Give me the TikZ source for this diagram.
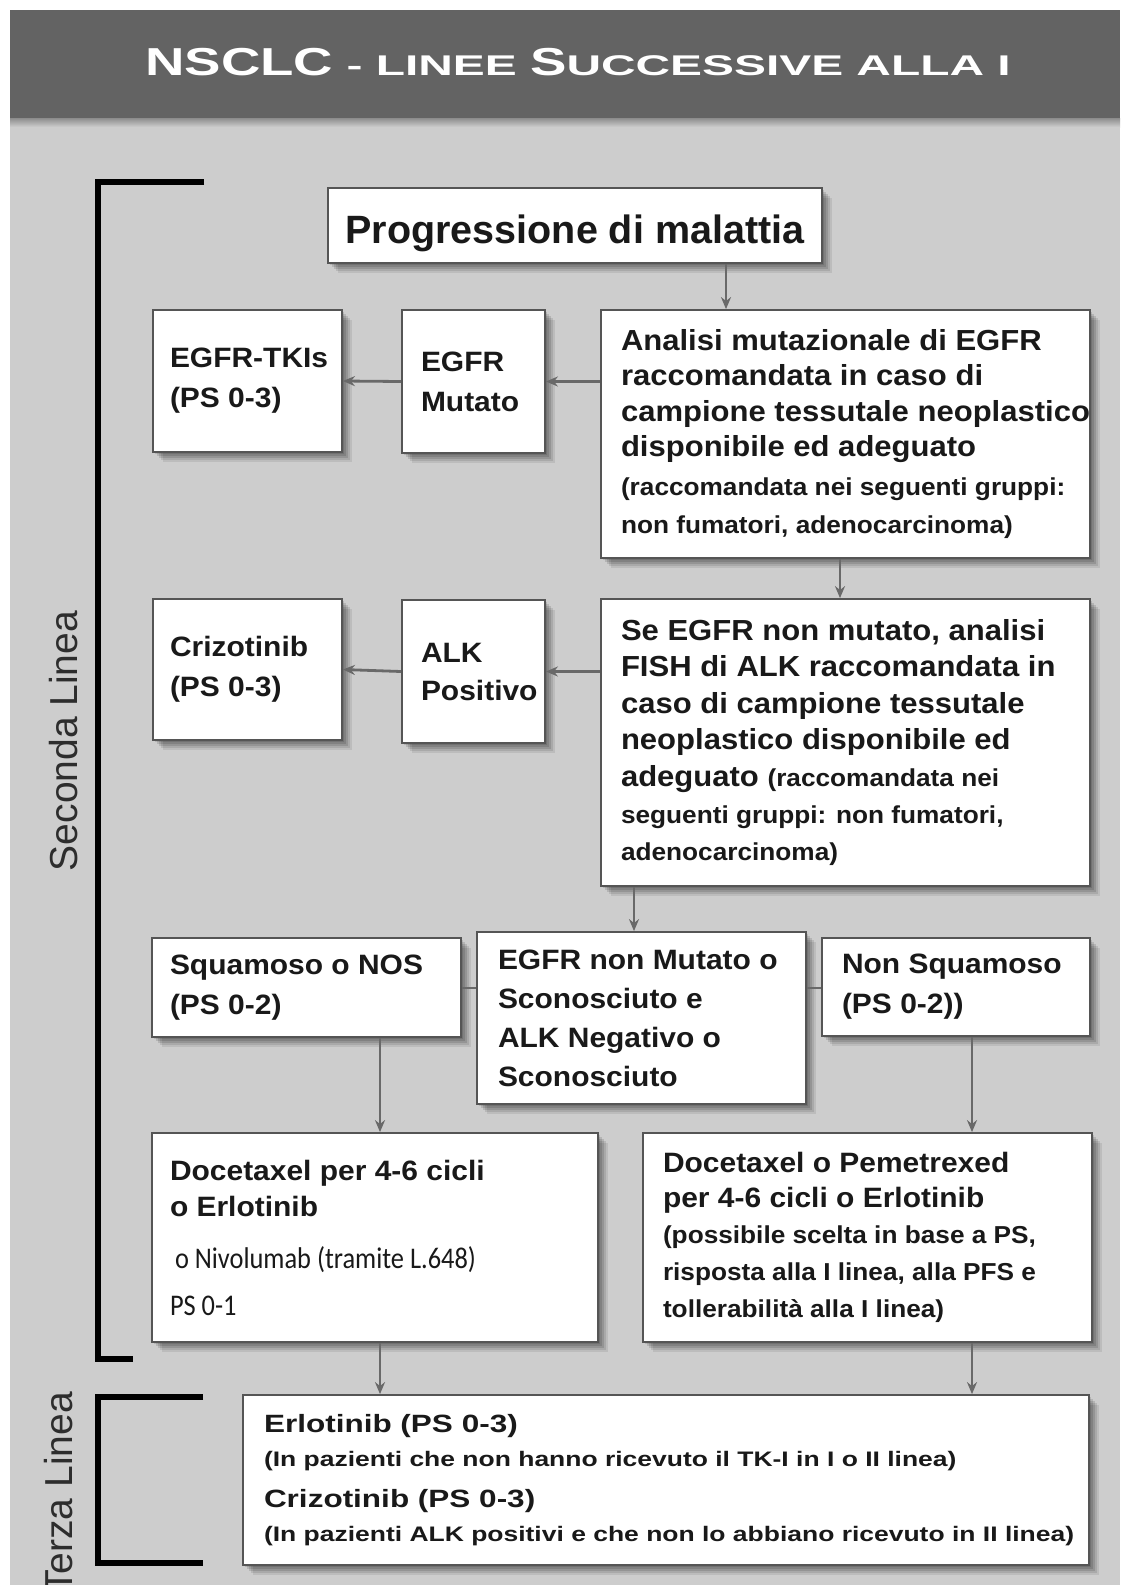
\documentclass[tikz,border=0pt]{standalone}
\usepackage{fontspec}
\setmainfont{Liberation Sans}
\newfontfamily\boxfont[FakeStretch=1.07]{Liberation Sans}
\newfontfamily\wideboxfont[FakeStretch=1.26]{Liberation Sans}
\newfontfamily\capfontA[FakeStretch=1.40]{Liberation Sans}
\newfontfamily\capfontB[FakeStretch=1.68]{Liberation Sans}
\newfontfamily\addfont[FakeStretch=0.88]{Carlito}
\usetikzlibrary{arrows.meta,shadows}
\setlength{\parskip}{0pt}

\definecolor{headgray}{RGB}{99,99,99}
\definecolor{bodygray}{RGB}{205,205,205}
\definecolor{boxline}{RGB}{85,85,85}
\definecolor{ink}{RGB}{25,25,25}
\definecolor{arrowgray}{RGB}{105,105,105}
\definecolor{labelgray}{RGB}{45,45,45}

% font size / baseline skip in one go
\newcommand{\fs}[2]{\fontsize{#1}{#2}\selectfont}
% natural word spaces of the current font
\newcommand{\natspace}{\spaceskip=0pt\xspaceskip=0pt\relax}
% left text margin inside a box, with some slack on the right
\newcommand{\pad}[1]{\natspace\leftskip=#1pt\rightskip=-40pt plus 1fil\relax}

\tikzset{
  box/.style={draw=boxline, line width=1.8pt, fill=white, inner xsep=0pt, inner ysep=0pt,
    align=left, text=ink, font=\boxfont\bfseries,
    drop shadow={shadow xshift=2pt,shadow yshift=-2pt,opacity=.12,fill=black},
    drop shadow={shadow xshift=4pt,shadow yshift=-4pt,opacity=.12,fill=black},
    drop shadow={shadow xshift=6pt,shadow yshift=-6pt,opacity=.12,fill=black},
    drop shadow={shadow xshift=8pt,shadow yshift=-8pt,opacity=.10,fill=black},
    drop shadow={shadow xshift=10pt,shadow yshift=-10pt,opacity=.08,fill=black}},
  arr/.style={draw=arrowgray, line width=2.8pt, -{Stealth[length=12pt,width=10pt]}},
  link/.style={draw=arrowgray, line width=2.8pt},
  bracket/.style={draw=black, line width=6pt, line cap=butt, line join=miter},
  sidelabel/.style={rotate=90, anchor=base, text=labelgray, inner sep=0pt, font=\fs{39}{39}},
}

\begin{document}
\begin{tikzpicture}[x=1pt, y=-1pt]
\useasboundingbox (0,0) rectangle (1120,1585);
\clip (0,0) rectangle (1120,1585);

% page, header band and body
\fill[white] (0,0) rectangle (1120,1585);
\fill[bodygray] (10,118) rectangle (1120,1585);
\shade[top color=black!45, bottom color=bodygray] (10,118) rectangle (1120,127);
\fill[headgray] (10,10) rectangle (1120,118);

\node[anchor=base, text=white, inner sep=0pt] (title) at (578,75)
  {\bfseries\capfontA\fs{39}{39}NSCLC\capfontB\fs{28.5}{28.5} - LINEE \capfontA\fs{39}{39}S\capfontB\fs{28.5}{28.5}UCCESSIVE ALLA I};

% line brackets
\draw[bracket] (204,182) -- (98,182) -- (98,1359) -- (133,1359);
\draw[bracket] (203,1397) -- (98,1397) -- (98,1563) -- (203,1563);
\node[sidelabel] (lab2) at (77,741) {Seconda Linea};
\node[sidelabel] (lab3) at (72,1493) {Terza Linea};

% boxes
\node[box, align=none, minimum width=494pt, minimum height=75pt, text height=40pt, text depth=5pt,
      font=\normalfont\bfseries\fs{39.5}{46}] (prog) at (575,225.5)
  {\natspace Progressione di malattia};

\node[box, text width=189pt, minimum height=142pt] (tki) at (247.5,381)
  {\pad{17}\fs{28}{40}EGFR-TKIs\\(PS 0-3)\par};
\node[box, text width=143pt, minimum height=143pt] (mut) at (473.5,381.5)
  {\pad{19}\fs{28}{40}EGFR\\Mutato\par};
\node[box, text width=489pt, minimum height=248pt] (ana) at (845.5,434)
  {\pad{20}\fs{29}{35.5}Analisi mutazionale di EGFR\\raccomandata in caso di\\campione tessutale neoplastico\\disponibile ed adeguato\\\fs{24.5}{39}(raccomandata nei seguenti gruppi:\\\fs{24.5}{38}non fumatori, adenocarcinoma)\par};

\node[box, text width=189pt, minimum height=141pt] (criz) at (247.5,669.5)
  {\pad{17}\fs{28}{40}Crizotinib\\(PS 0-3)\par};
\node[box, text width=143pt, minimum height=143pt] (alkp) at (473.5,671.5)
  {\pad{19}\fs{28}{38}ALK\\Positivo\par};
\node[box, text width=489pt, minimum height=287pt] (alka) at (845.5,742.5)
  {\pad{20}\fs{29}{36.5}Se EGFR non mutato, analisi\\FISH di ALK raccomandata in\\caso di campione tessutale\\neoplastico disponibile ed\\adeguato {\fs{24.5}{36.5}(raccomandata nei}\\\fs{24.5}{37}seguenti gruppi: non fumatori,\\adenocarcinoma)\par};

\node[box, text width=309pt, minimum height=99pt] (sq) at (306.5,987.5)
  {\pad{18}\fs{28}{40}Squamoso o NOS\\(PS 0-2)\par};
\node[box, text width=329pt, minimum height=172pt] (mid) at (641.5,1018)
  {\pad{21}\fs{28}{39}EGFR non Mutato o\\Sconosciuto e\\ALK Negativo o\\Sconosciuto\par};
\node[box, text width=268pt, minimum height=98pt] (nsq) at (956,987)
  {\pad{20}\fs{28}{40}Non Squamoso\\(PS 0-2))\par};

\node[box, text width=446pt, minimum height=209pt] (docL) at (375,1237.5)
  {\pad{18}\fs{28}{36}Docetaxel per 4-6 cicli\\o Erlotinib\\\addfont\mdseries\fs{30}{52}\hspace*{5pt}o Nivolumab (tramite L.648)\\\fs{30}{47}PS 0-1\par};
\node[box, text width=449pt, minimum height=209pt] (docR) at (867.5,1237.5)
  {\pad{20}\fs{28}{35}Docetaxel o Pemetrexed\\per 4-6 cicli o Erlotinib\\\fs{24.5}{36}(possibile scelta in base a PS,\\\fs{24.5}{37}risposta alla I linea, alla PFS e\\tollerabilità alla I linea)\par};

\node[box, text width=846pt, minimum height=170pt] (terza) at (666,1480)
  {\pad{21}\wideboxfont\bfseries\fs{25}{34}Erlotinib (PS 0-3)\\\fs{21}{34}(In pazienti che non hanno ricevuto il TK-I in I o II linea)\\\fs{25}{41}Crizotinib (PS 0-3)\\\fs{21}{34}(In pazienti ALK positivi e che non lo abbiano ricevuto in II linea)\par};

% connectors
\coordinate (xa) at (726,0);
\coordinate (xb) at (840,0);
\coordinate (xc) at (634,0);
\coordinate (xl) at (380,0);
\coordinate (xr) at (972,0);
\coordinate (yl) at (0,988);

\draw[arr] (prog.south -| xa) -- (ana.north -| xa);
\draw[arr] (ana.west |- mut.east) -- (mut.east);
\draw[arr] (mut.west) -- (tki.east);
\draw[arr] (ana.south -| xb) -- (alka.north -| xb);
\draw[arr] (alka.west |- alkp.east) -- (alkp.east);
\draw[arr] (alkp.west) -- (criz.east);
\draw[arr] (alka.south -| xc) -- (mid.north -| xc);
\draw[link] (sq.east |- yl) -- (mid.west |- yl);
\draw[link] (mid.east |- yl) -- (nsq.west |- yl);
\draw[arr] (sq.south -| xl) -- (docL.north -| xl);
\draw[arr] (nsq.south -| xr) -- (docR.north -| xr);
\draw[arr] (docL.south -| xl) -- (terza.north -| xl);
\draw[arr] (docR.south -| xr) -- (terza.north -| xr);
\end{tikzpicture}
\end{document}
